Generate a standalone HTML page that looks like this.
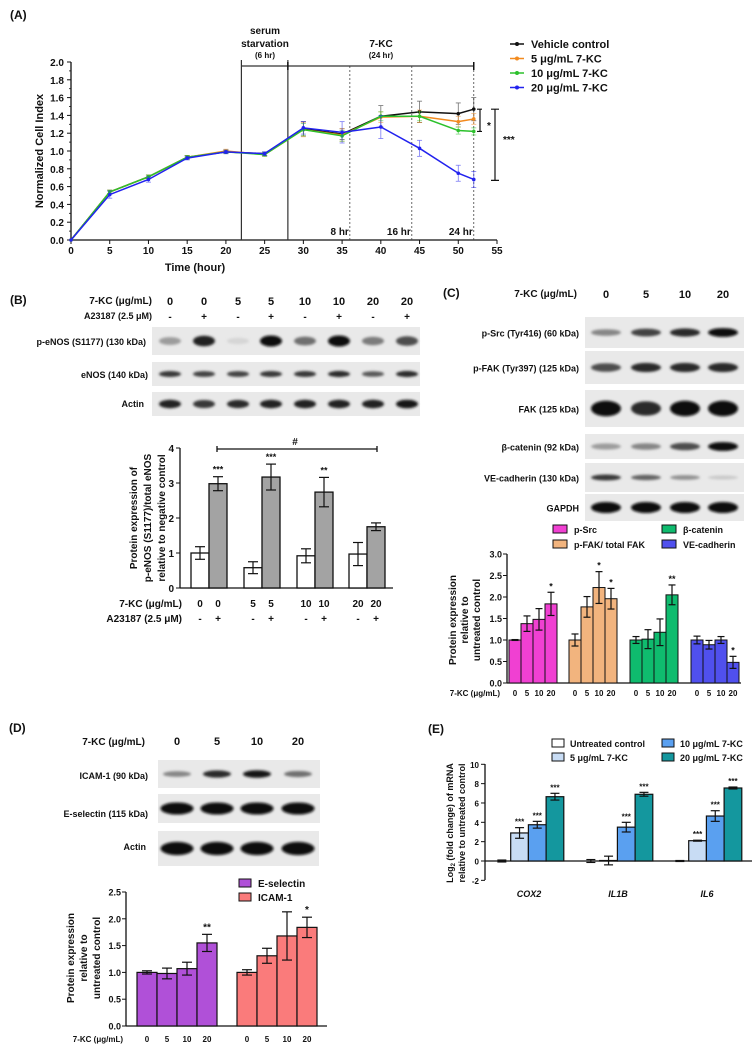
<!DOCTYPE html>
<html><head><meta charset="utf-8">
<style>
html,body{margin:0;padding:0;background:#fff;}
svg{display:block;font-family:"Liberation Sans",Arial,sans-serif;font-weight:bold;}
</style></head>
<body>
<svg id="fig" width="756" height="1056" viewBox="0 0 756 1056" xmlns="http://www.w3.org/2000/svg">
<defs>
<filter id="bl" x="-30%" y="-80%" width="160%" height="260%"><feGaussianBlur stdDeviation="1.3"/></filter>
</defs>
</svg>
<script>
// ---------- Panel A data ----------
const hoursA = [0,5,10,15,20,25,30,35,40,45,50,52];
const vehicleA = [0,0.54,0.71,0.93,0.99,0.97,1.25,1.19,1.39,1.44,1.42,1.47];
const k5A = [0,0.54,0.71,0.93,1.00,0.96,1.24,1.18,1.38,1.39,1.33,1.36];
const k10A = [0,0.54,0.71,0.93,0.99,0.96,1.24,1.17,1.39,1.39,1.23,1.22];
const k20A = [0,0.51,0.68,0.92,0.99,0.97,1.26,1.21,1.27,1.03,0.75,0.68];
const errVehA = [0,0.02,0.02,0.02,0.02,0.02,0.08,0.06,0.12,0.12,0.12,0.13];
const err5A = [0,0.02,0.02,0.02,0.02,0.02,0.08,0.07,0.06,0.07,0.06,0.06];
const err10A = [0,0.02,0.02,0.02,0.02,0.02,0.07,0.06,0.05,0.05,0.04,0.04];
const err20A = [0,0.04,0.03,0.02,0.02,0.02,0.07,0.12,0.13,0.09,0.09,0.09];
const xTicksA = [0,5,10,15,20,25,30,35,40,45,50,55];
const yTicksA = [0,0.2,0.4,0.6,0.8,1.0,1.2,1.4,1.6,1.8,2.0];
// ---------- Panel B data ----------
const bWhite = [1.0,0.58,0.92,0.97];
const bWhiteErr = [0.18,0.17,0.2,0.33];
const bGrey = [2.98,3.17,2.74,1.75];
const bGreyErr = [0.2,0.37,0.42,0.11];
const bStars = ["***","***","**",""];
const yTicksB = [0,1,2,3,4];
// ---------- Panel C data ----------
const cSeries = ["p-Src","p-FAK/ total FAK","β-catenin","VE-cadherin"];
const cVals = [[1.0,1.38,1.48,1.84],[1.0,1.77,2.22,1.96],[1.0,1.02,1.18,2.05],[1.0,0.89,1.0,0.48]];
const cErrs = [[0.01,0.18,0.25,0.27],[0.14,0.24,0.37,0.24],[0.08,0.22,0.31,0.23],[0.09,0.1,0.08,0.14]];
const cStars = [["","","","*"],["","","*","*"],["","","","**"],["","","","*"]];
const doses = ["0","5","10","20"];
const yTicksC = [0,0.5,1.0,1.5,2.0,2.5,3.0];
// ---------- Panel D data ----------
const dSeries = ["E-selectin","ICAM-1"];
const dVals = [[1.0,0.98,1.07,1.55],[1.0,1.31,1.68,1.84]];
const dErrs = [[0.03,0.1,0.12,0.16],[0.05,0.14,0.45,0.19]];
const dStars = [["","","","**"],["","","","*"]];
const yTicksD = [0,0.5,1.0,1.5,2.0,2.5];
// ---------- Panel E data ----------
const eGenes = ["COX2","IL1B","IL6"];
const eSeries = ["Untreated control","5 μg/mL 7-KC","10 μg/mL 7-KC","20 μg/mL 7-KC"];
const eVals = [[0,2.9,3.75,6.65],[0,0.05,3.5,6.9],[0,2.1,4.65,7.55]];
const eErrs = [[0.1,0.55,0.35,0.35],[0.15,0.45,0.5,0.2],[0.05,0.05,0.55,0.1]];
const eStars = [["","***","***","***"],["","","***","***"],["","***","***","***"]];
const yTicksE = [-2,0,2,4,6,8,10];

const svg = document.getElementById('fig');
const NS = 'http://www.w3.org/2000/svg';
function mk(tag, at, parent){ const e=document.createElementNS(NS,tag); for(const k in at) e.setAttribute(k,at[k]); (parent||svg).appendChild(e); return e; }
function tx(x,y,s,size,anchor,extra){ const e=mk('text',Object.assign({x:x,y:y,'font-size':size,'text-anchor':anchor||'start',fill:'#111'},extra||{})); e.textContent=s; return e; }
function ln(x1,y1,x2,y2,w,col,extra){ return mk('line',Object.assign({x1:x1,y1:y1,x2:x2,y2:y2,stroke:col||'#111','stroke-width':w||1},extra||{})); }
function errbar(x,y1,y2,cap,col,w){ const g=mk('g',{}); mk('line',{x1:x,y1:y1,x2:x,y2:y2,stroke:col||'#111','stroke-width':w||1.2},g); mk('line',{x1:x-cap,y1:y1,x2:x+cap,y2:y1,stroke:col||'#111','stroke-width':w||1.2},g); mk('line',{x1:x-cap,y1:y2,x2:x+cap,y2:y2,stroke:col||'#111','stroke-width':w||1.2},g); return g; }

// ================= PANEL A =================
let t;
t = tx(10,19,'(A)',12);  
const xA = h => 71 + h*(426/55);
const yA = v => 240 - v*89;
let ax = ln(71,62,71,240,1.3);  
ax = ln(71,240,497,240,1.3);  
yTicksA.forEach(v=>{ ln(67,yA(v),71,yA(v),1); if(v<1.95) ln(69,yA(v+0.1),71,yA(v+0.1),0.8);
  t=tx(64,yA(v)+4,v.toFixed(1),10,'end');   });
xTicksA.forEach(h=>{ ln(xA(h),240,xA(h),244,1);
  t=tx(xA(h),254,String(h),10,'middle');   });
t = tx(195,271,'Time (hour)',11,'middle');  
t = tx(0,0,'Normalized Cell Index',11,'middle',{transform:'translate(43,151) rotate(-90)'});  
[22,28].forEach(h=>{ const l=ln(xA(h),60,xA(h),240,1.2,'#333');   });
[36,44,52].forEach(h=>{ const l=ln(xA(h),66,xA(h),240,0.8,'#444',{'stroke-dasharray':'2,2'});   });
let hb = ln(xA(22),66,xA(52),66,1.3,'#333');  
ln(xA(28),62,xA(28),70,1.5); ln(xA(52),62,xA(52),70,1.5);
t=tx(265,34,'serum',10,'middle');  
t=tx(265,47,'starvation',10,'middle');  
t=tx(265,58,'(6 hr)',8,'middle');  
t=tx(381,47,'7-KC',10,'middle');  
t=tx(381,58,'(24 hr)',8,'middle');  
[[36,'8 hr'],[44,'16 hr'],[52,'24 hr']].forEach(p=>{ t=tx(xA(p[0])-1,235,p[1],10,'end');   });
const seriesA = [[vehicleA,errVehA,'#111','Vehicle control'],[k5A,err5A,'#f28a1e','5 μg/mL 7-KC'],[k10A,err10A,'#2cc12c','10 μg/mL 7-KC'],[k20A,err20A,'#2222ee','20 μg/mL 7-KC']];
seriesA.forEach((s,si)=>{
  const g=mk('g',{});
   
  hoursA.forEach((h,i)=>{ if(s[1][i]>0){ const e=errbar(xA(h),yA(s[0][i]+s[1][i]),yA(s[0][i]-s[1][i]),2.5,s[2],0.8); e.setAttribute('opacity','0.6'); g.appendChild(e);} });
  const pl=mk('polyline',{points:hoursA.map((h,i)=>xA(h)+','+yA(s[0][i])).join(' '),fill:'none',stroke:s[2],'stroke-width':1.5},g);
   
  hoursA.forEach((h,i)=>{ const c=mk('circle',{cx:xA(h),cy:yA(s[0][i]),r:1.8,fill:s[2]},g);   });
  const ly=48+si*14.5;
  const lg=mk('g',{});  
  mk('line',{x1:510,y1:ly-4,x2:524,y2:ly-4,stroke:s[2],'stroke-width':1.5},lg); mk('circle',{cx:517,cy:ly-4,r:2,fill:s[2]},lg);
  const lt=tx(531,ly,s[3],11); lg.appendChild(lt);
});
let br = mk('path',{d:`M477 ${yA(1.47)} H482 M480 ${yA(1.47)} V${yA(1.22)} M477 ${yA(1.22)} H482`,stroke:'#111','stroke-width':1.2,fill:'none'});  
t=tx(487,129,'*',10);  
br = mk('path',{d:`M491 ${yA(1.47)} H499 M495 ${yA(1.47)} V${yA(0.67)} M491 ${yA(0.67)} H499`,stroke:'#111','stroke-width':1.2,fill:'none'});  
t=tx(503,143,'***',10);  

// ================= Blot helper =================
function blot(name,x,y,w,h,centers,ints,bw,bh){
  const g=mk('g',{});  
  mk('rect',{x:x,y:y,width:w,height:h,fill:'#e9e9e9'},g);
  centers.forEach((c,i)=>{ const v=Math.round(235-ints[i]*225); mk('ellipse',{cx:c,cy:y+h/2,rx:bw/2,ry:bh/2*(0.6+0.5*ints[i]),fill:`rgb(${v},${v},${v})`,filter:'url(#bl)'},g); });
  return g;
}

// ================= PANEL B =================
t=tx(10,304,'(B)',12);  
t=tx(152,304,'7-KC (μg/mL)',10,'end');  
t=tx(152,319,'A23187 (2.5 μM)',9,'end');  
const laneB=[170,204,238,271,305,339,373,407];
const doseB=['0','0','5','5','10','10','20','20']; const signB=['-','+','-','+','-','+','-','+'];
laneB.forEach((c,i)=>{ t=tx(c,305,doseB[i],11,'middle');  
  t=tx(c,320,signB[i],10,'middle');   });
blot('blot-p-enos',152,327,268,28,laneB,[0.35,0.9,0.1,1,0.55,1,0.5,0.7],22,10);
blot('blot-enos',152,362,268,24,laneB,[0.8,0.75,0.75,0.8,0.8,0.85,0.65,0.85],22,6);
blot('blot-actin-b',152,392,268,24,laneB,[0.9,0.8,0.85,0.9,0.9,0.9,0.9,0.95],22,8);
t=tx(146,345,'p-eNOS (S1177) (130 kDa)',9,'end');  
t=tx(148,378,'eNOS (140 kDa)',9,'end');  
t=tx(144,407,'Actin',9,'end');  
const yB = v => 588 - v*35;
ax=ln(180,448,180,588,1.3);  
ax=ln(180,588,393,588,1.3);  
yTicksB.forEach(v=>{ ln(176,yB(v),180,yB(v)); t=tx(174,yB(v)+4,String(v),10,'end');   });
const pairXB=[191,244,297,349];
bWhite.forEach((v,i)=>{
  const r=mk('rect',{x:pairXB[i],y:yB(v),width:18,height:yB(0)-yB(v),fill:'#fff',stroke:'#111','stroke-width':1.3});  
  const e=errbar(pairXB[i]+9,yB(v+bWhiteErr[i]),yB(v-bWhiteErr[i]),5);  
  const v2=bGrey[i];
  const r2=mk('rect',{x:pairXB[i]+18,y:yB(v2),width:18,height:yB(0)-yB(v2),fill:'#a3a3a3',stroke:'#111','stroke-width':1.3});  
  const e2=errbar(pairXB[i]+27,yB(v2+bGreyErr[i]),yB(v2-bGreyErr[i]),5);  
  if(bStars[i]){ t=tx(pairXB[i]+27,yB(v2+bGreyErr[i])-4,bStars[i],9,'middle');   }
});
br=mk('path',{d:'M217 446 V452 M217 449 H377 M377 446 V452',stroke:'#111','stroke-width':1.3,fill:'none'});  
t=tx(295,445,'#',10,'middle');  
['Protein expression of','p-eNOS (S1177)/total eNOS','relative to negative control'].forEach((s,i)=>{ t=tx(0,0,s,10,'middle',{transform:`translate(${137+i*14},518) rotate(-90)`});   });
t=tx(182,607,'7-KC (μg/mL)',10,'end');  
t=tx(182,622,'A23187  (2.5 μM)',10,'end');  
pairXB.forEach((x,i)=>{ [0,1].forEach(j=>{ t=tx(x+9+j*18,607,doseB[i*2+j],10,'middle');  
  t=tx(x+9+j*18,622,signB[i*2+j],10,'middle');   }); });

// ================= PANEL C =================
t=tx(443,297,'(C)',12);  
t=tx(577,297,'7-KC (μg/mL)',10,'end');  
const laneC=[606,646,685,723];
laneC.forEach((c,i)=>{ t=tx(c,298,doses[i],11,'middle');   });
const blotsC=[['p-Src (Tyr416) (60 kDa)',317,31,[0.45,0.75,0.85,1],8],['p-FAK (Tyr397) (125 kDa)',351,33,[0.7,0.85,0.85,0.85],9],['FAK (125 kDa)',390,37,[1,0.85,1,1],14],['β-catenin (92 kDa)',434,25,[0.35,0.45,0.7,1],8],['VE-cadherin (130 kDa)',463,29,[0.8,0.6,0.4,0.15],6],['GAPDH',494,27,[1,1,1,1],10]];
blotsC.forEach((b,i)=>{ blot('blot-c-'+i,585,b[1],159,b[2],laneC,b[3],30,b[4]);
  t=tx(579,b[1]+b[2]/2+4,b[0],9,'end');   });
const yC = v => 683 - v*43;
ax=ln(507,554,507,683,1.3);  
ax=ln(507,683,741,683,1.3);  
yTicksC.forEach(v=>{ ln(503,yC(v),507,yC(v)); t=tx(502,yC(v)+3.5,v.toFixed(1),9,'end');   });
const colC=['#f040d2','#f2b47e','#0fbb6e','#5050ee'];
const grpXC=[509,569,630,691];
cVals.forEach((vals,gi)=>{ vals.forEach((v,j)=>{ const x=grpXC[gi]+j*12;
  const r=mk('rect',{x:x,y:yC(v),width:12,height:yC(0)-yC(v),fill:colC[gi],stroke:'#111','stroke-width':1});  
  const e=errbar(x+6,yC(v+cErrs[gi][j]),yC(v-cErrs[gi][j]),3.5);  
  if(cStars[gi][j]){ t=tx(x+6,yC(v+cErrs[gi][j])-3,cStars[gi][j],9,'middle');   }
  t=tx(x+6,696,doses[j],8,'middle');  
}); });
t=tx(500,696,'7-KC (μg/mL)',8,'end');  
['Protein expression','relative to','untreated control'].forEach((s,i)=>{ t=tx(0,0,s,10,'middle',{transform:`translate(${456+i*12},620) rotate(-90)`});   });
const legPosC=[[553,533],[553,548],[662,533],[662,548]];
cSeries.forEach((s,i)=>{ const g=mk('g',{});  
  mk('rect',{x:legPosC[i][0],y:legPosC[i][1]-8,width:14,height:8,fill:colC[i],stroke:'#111','stroke-width':1},g);
  g.appendChild(tx(legPosC[i][0]+21,legPosC[i][1],s,9)); });

// ================= PANEL D =================
t=tx(9,732,'(D)',12);  
t=tx(145,745,'7-KC (μg/mL)',10,'end');  
const laneD=[177,217,257,298];
laneD.forEach((c,i)=>{ t=tx(c,745,doses[i],11,'middle');   });
blot('blot-icam1',158,760,162,28,laneD,[0.45,0.85,0.95,0.55],28,7);
blot('blot-eselectin',158,794,162,29,laneD,[1,1,1,1],33,11);
blot('blot-actin-d',158,831,161,35,laneD,[1,1,1,1],33,12);
t=tx(148,779,'ICAM-1 (90 kDa)',9,'end');  
t=tx(148,817,'E-selectin (115 kDa)',9,'end');  
t=tx(146,850,'Actin',9,'end');  
const yD = v => 1026 - v*53.6;
ax=ln(126,892,126,1026,1.3);  
ax=ln(126,1026,327,1026,1.3);  
yTicksD.forEach(v=>{ ln(122,yD(v),126,yD(v)); t=tx(121,yD(v)+3.5,v.toFixed(1),9,'end');   });
const colD=['#b050d8','#fa7b7b']; const grpXD=[137,237];
dVals.forEach((vals,gi)=>{ vals.forEach((v,j)=>{ const x=grpXD[gi]+j*20;
  const r=mk('rect',{x:x,y:yD(v),width:20,height:yD(0)-yD(v),fill:colD[gi],stroke:'#111','stroke-width':1.2});  
  const e=errbar(x+10,yD(v+dErrs[gi][j]),yD(v-dErrs[gi][j]),5);  
  if(dStars[gi][j]){ t=tx(x+10,yD(v+dErrs[gi][j])-4,dStars[gi][j],10,'middle');   }
  t=tx(x+10,1042,doses[j],8,'middle');  
}); });
t=tx(123,1042,'7-KC (μg/mL)',8,'end');  
['Protein expression','relative to','untreated control'].forEach((s,i)=>{ t=tx(0,0,s,10,'middle',{transform:`translate(${74+i*13},958) rotate(-90)`});   });
dSeries.forEach((s,i)=>{ const g=mk('g',{});  
  mk('rect',{x:239,y:879+i*14,width:12,height:8,fill:colD[i],stroke:'#111','stroke-width':1},g);
  g.appendChild(tx(258,887+i*14,s,10)); });

// ================= PANEL E =================
t=tx(428,733,'(E)',12);  
const yE = v => 861 - v*9.67;
ax=ln(485,764,485,880,1.3);  
ax=ln(485,861,752,861,1.3);  
yTicksE.forEach(v=>{ ln(481,yE(v),485,yE(v)); t=tx(479,yE(v)+3.5,String(v),8,'end');   });
const colE=['#ffffff','#c8dcf4','#5aa0f0','#14979e']; const grpXE=[493,582,671]; const bwE=17.7;
eVals.forEach((vals,gi)=>{ vals.forEach((v,j)=>{ const x=grpXE[gi]+j*bwE;
  const r=mk('rect',{x:x,y:yE(Math.max(v,0)),width:bwE,height:Math.abs(yE(0)-yE(v)),fill:colE[j],stroke:'#111','stroke-width':1.2});  
  const e=errbar(x+bwE/2,yE(v+eErrs[gi][j]),yE(v-eErrs[gi][j]),4.5);  
  if(eStars[gi][j]){ t=tx(x+bwE/2,yE(v+eErrs[gi][j])-3,eStars[gi][j],8,'middle');   }
}); t=tx(grpXE[gi]+36,897,eGenes[gi],9,'middle',{'font-style':'italic'});   });
t=tx(0,0,'',9,'middle',{transform:'translate(453,823) rotate(-90)'});  
t.innerHTML='Log<tspan font-size="6" dy="2">2</tspan><tspan dy="-2"> (fold change) of mRNA</tspan>';
t=tx(0,0,'relative to untreated control',9,'middle',{transform:'translate(465,823) rotate(-90)'});  
const legPosE=[[552,747],[552,761],[662,747],[662,761]];
eSeries.forEach((s,i)=>{ const g=mk('g',{});  
  mk('rect',{x:legPosE[i][0],y:legPosE[i][1]-8,width:12,height:8,fill:colE[i],stroke:'#111','stroke-width':1},g);
  g.appendChild(tx(legPosE[i][0]+18,legPosE[i][1],s,9)); });
</script>
</body></html>
